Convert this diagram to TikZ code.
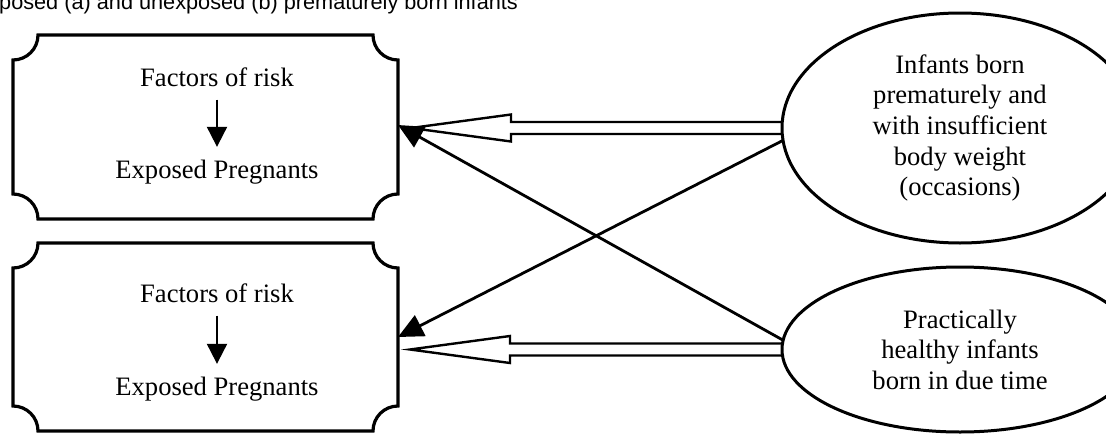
\documentclass[tikz,border=0pt]{standalone}
\usepackage{fontspec}
\setmainfont{Liberation Serif}
\newfontfamily\titlefont{Liberation Sans}
\usetikzlibrary{arrows.meta,shapes.geometric,calc}
\begin{document}
\begin{tikzpicture}[x=1pt,y=-1pt,
  boxarea/.style={rectangle, minimum width=385pt, inner sep=0pt, outer sep=0pt},
  boxline/.style={line width=3.2pt, line join=miter},
  txt/.style={font=\fontsize{26.6}{30.6}\selectfont, inner xsep=0pt, inner ysep=12.5pt},
  ell/.style={ellipse, draw, line width=3pt, minimum width=356pt, inner sep=0pt, outer sep=0pt, align=center, font=\fontsize{26.6}{30.6}\selectfont},
  smallarrow/.style={line width=2pt, -{Triangle[length=20pt,width=20pt]}},
  solidarrow/.style={line width=2.8pt, -{Triangle[length=25pt,width=23pt]}},
  hollow/.style={line width=2.4pt, line join=miter, miter limit=20},
]
\useasboundingbox (0,0) rectangle (1106,434);
\clip (0,0) rectangle (1106,434);
\fill[white] (0,0) rectangle (1106,434);

% title (cut at the top edge, as in the reference)
\node[anchor=base west, inner sep=0pt, font=\titlefont\fontsize{21.7}{24}\selectfont] (title) at (-1,9.5) {posed (a) and unexposed (b) prematurely born infants};

% left boxes
\node[boxarea, minimum height=184pt] (box1) at (205.5,127) {};
\node[boxarea, minimum height=188pt] (box2) at (205.5,337) {};
\foreach \b in {box1,box2}{
  \draw[boxline] ([xshift=25pt]\b.north west) -- ([xshift=-25pt]\b.north east)
    arc[start angle=180,end angle=90,radius=25]
    -- ([yshift=25pt]\b.south east) arc[start angle=270,end angle=180,radius=25]
    -- ([xshift=25pt]\b.south west) arc[start angle=0,end angle=-90,radius=25]
    -- ([yshift=-25pt]\b.north west) arc[start angle=90,end angle=0,radius=25]
    -- cycle;
}

% texts in boxes
\node[txt, anchor=base] (f1) at (217,86.7) {Factors of risk};
\node[txt, anchor=base] (e1) at (217,178) {Exposed Pregnants};
\draw[smallarrow] (f1) -- (e1);
\node[txt, anchor=base] (f2) at (217,302.7) {Factors of risk};
\node[txt, anchor=base] (e2) at (217,395) {Exposed Pregnants};
\draw[smallarrow] (f2) -- (e2);

% ellipses
\node[ell, minimum height=230pt] (ell1) at (960,128) {Infants born\\prematurely and\\with insufficient\\body weight\\(occasions)};
\node[ell, minimum height=165pt] (ell2) at (960,349.5) {Practically\\healthy infants\\born in due time};

% hollow arrows
\coordinate (h1tip) at ($(box1.east |- ell1.west)+(13,0)$);
\draw[hollow] ($(ell1.west)+(0,-6)$) -- ($(h1tip)+(100,-6)$) -- ($(h1tip)+(100,-13.5)$) -- (h1tip)
  -- ($(h1tip)+(100,13.5)$) -- ($(h1tip)+(100,6)$) -- ($(ell1.west)+(0,6)$);
\coordinate (h2tip) at ($(box2.east |- ell2.west)+(12,0)$);
\draw[hollow] ($(ell2.west)+(0,-6)$) -- ($(h2tip)+(100,-6)$) -- ($(h2tip)+(100,-13.5)$) -- (h2tip)
  -- ($(h2tip)+(100,13.5)$) -- ($(h2tip)+(100,6)$) -- ($(ell2.west)+(0,6)$);

% crossing solid arrows
\draw[solidarrow] (ell2.177) -- ([yshift=2pt]box1.east);
\draw[solidarrow] (ell1.184) -- (box2.east);
\end{tikzpicture}
\end{document}
